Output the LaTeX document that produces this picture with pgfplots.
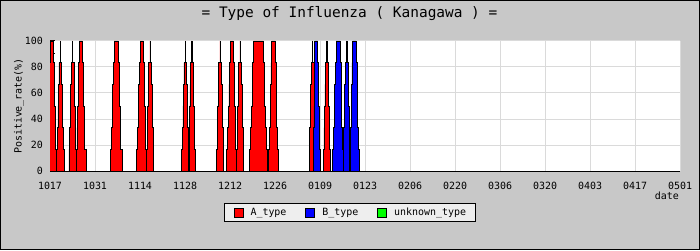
\documentclass[border=0pt]{standalone}
\usepackage{fontspec}
\setmainfont{DejaVu Sans Mono}
\usepackage{pgfplots}
\pgfplotsset{compat=1.18}
\definecolor{bgray}{RGB}{200,200,200}
\definecolor{gridc}{RGB}{218,218,218}
\definecolor{legbg}{RGB}{238,238,238}
\begin{document}
\begin{tikzpicture}[x=1bp,y=1bp]
\fill[bgray] (0,0) rectangle (700,250);
\path[use as bounding box] (0,0) rectangle (700,250);
\begin{axis}[
  at={(50bp,79bp)}, anchor=south west,
  scale only axis, width=630bp, height=130bp,
  xmin=0, xmax=196, ymin=0, ymax=100,
  axis background/.style={fill=white},
  axis x line=bottom, axis y line=left,
  axis line style={-, line width=1bp, black},
  xtick={0,14,...,196},
  xticklabels={1017,1031,1114,1128,1212,1226,0109,0123,0206,0220,0306,0320,0403,0417,0501},
  ytick={0,20,...,100},
  minor y tick num=1,
  xmajorgrids, ymajorgrids,
  grid style={gridc, line width=1bp},
  x tick style={draw=none},
  y tick style={black, line width=1bp},
  tick align=inside,
  major tick length=5bp, minor tick length=5bp,
  /pgf/number format/assume math mode=true,
  tick label style={font=\fontsize{10}{12}\selectfont},
  xticklabel style={inner sep=0pt, anchor=north, yshift=-11bp},
  yticklabel style={inner sep=0pt, anchor=east, xshift=-7bp},
  ylabel={Positive\_rate(\%)},
  every axis y label/.style={at={(axis description cs:-0.0492,0.5)}, rotate=90, anchor=center, inner sep=0pt, font=\fontsize{10}{12}\selectfont},
  xlabel={date},
  every axis x label/.style={at={(axis description cs:0.9984,-0.1615)}, anchor=north east, inner sep=0pt, font=\fontsize{10}{12}\selectfont},
  title={= Type of Influenza ( Kanagawa ) =},
  title style={at={(axis description cs:0.4754,1.131)}, anchor=base, inner sep=0pt, font=\fontsize{14.5}{16}\selectfont},
  legend columns=3,
  legend style={at={(0.476,-0.319)}, anchor=center, fill=legbg, draw=black, line width=1bp,
    font=\fontsize{10}{12}\selectfont, inner xsep=9bp, inner ysep=4bp,
    nodes={inner sep=0pt},
    /tikz/every odd column/.append style={column sep=7bp},
    /tikz/every even column/.append style={column sep=19bp}},
  legend image code/.code={\draw[#1, line width=0.8bp] (0bp,-4.5bp) rectangle (9bp,4.5bp);},
]
\addlegendimage{fill=red, draw=black}
\addlegendentry{A\_type}
\addlegendimage{fill=blue, draw=black}
\addlegendentry{B\_type}
\addlegendimage{fill=green, draw=black}
\addlegendentry{unknown\_type}

% A_type (red) spikes
\addplot[fill=red, draw=black, line width=0.6bp, forget plot] coordinates {
(-1.1,0)(-1.1,16.7)(-0.75,16.7)(-0.75,33.3)(-0.55,33.3)(-0.55,50)(-0.4,50)(-0.4,66.7)(-0.25,66.7)(-0.25,83.3)(0,83.3)(0,100)(1.0,100)(1.0,83.3)(1.25,83.3)(1.25,66.7)(1.4,66.7)(1.4,50)(1.55,50)(1.55,33.3)(1.75,33.3)(1.75,16.7)(2.1,16.7)(2.1,0)
(2.1,0)(2.1,16.7)(2.3,16.7)(2.3,33.3)(2.45,33.3)(2.45,50)(2.6,50)(2.6,66.7)(2.75,66.7)(2.75,83.3)(3.15,83.3)(3.15,100)(3.25,100)(3.25,83.3)(3.65,83.3)(3.65,66.7)(3.8,66.7)(3.8,50)(3.95,50)(3.95,33.3)(4.1,33.3)(4.1,16.7)(4.3,16.7)(4.3,0)
(5.9,0)(5.9,16.7)(6.1,16.7)(6.1,33.3)(6.25,33.3)(6.25,50)(6.4,50)(6.4,66.7)(6.55,66.7)(6.55,83.3)(6.95,83.3)(6.95,100)(7.05,100)(7.05,83.3)(7.45,83.3)(7.45,66.7)(7.6,66.7)(7.6,50)(7.75,50)(7.75,33.3)(7.9,33.3)(7.9,16.7)(8.1,16.7)(8.1,0)
(8.03,0)(8.03,16.7)(8.38,16.7)(8.38,33.3)(8.58,33.3)(8.58,50)(8.73,50)(8.73,66.7)(8.88,66.7)(8.88,83.3)(9.13,83.3)(9.13,100)(10.07,100)(10.07,83.3)(10.32,83.3)(10.32,66.7)(10.47,66.7)(10.47,50)(10.62,50)(10.62,33.3)(10.82,33.3)(10.82,16.7)(11.17,16.7)(11.17,0)
(18.83,0)(18.83,16.7)(19.18,16.7)(19.18,33.3)(19.38,33.3)(19.38,50)(19.53,50)(19.53,66.7)(19.68,66.7)(19.68,83.3)(19.93,83.3)(19.93,100)(21.27,100)(21.27,83.3)(21.52,83.3)(21.52,66.7)(21.67,66.7)(21.67,50)(21.82,50)(21.82,33.3)(22.02,33.3)(22.02,16.7)(22.37,16.7)(22.37,0)
(26.9,0)(26.9,16.7)(27.25,16.7)(27.25,33.3)(27.45,33.3)(27.45,50)(27.6,50)(27.6,66.7)(27.75,66.7)(27.75,83.3)(28.0,83.3)(28.0,100)(29.0,100)(29.0,83.3)(29.25,83.3)(29.25,66.7)(29.4,66.7)(29.4,50)(29.55,50)(29.55,33.3)(29.75,33.3)(29.75,16.7)(30.1,16.7)(30.1,0)
(30.0,0)(30.0,16.7)(30.2,16.7)(30.2,33.3)(30.35,33.3)(30.35,50)(30.5,50)(30.5,66.7)(30.65,66.7)(30.65,83.3)(31.05,83.3)(31.05,100)(31.15,100)(31.15,83.3)(31.55,83.3)(31.55,66.7)(31.7,66.7)(31.7,50)(31.85,50)(31.85,33.3)(32.0,33.3)(32.0,16.7)(32.2,16.7)(32.2,0)
(41.0,0)(41.0,16.7)(41.2,16.7)(41.2,33.3)(41.35,33.3)(41.35,50)(41.5,50)(41.5,66.7)(41.65,66.7)(41.65,83.3)(42.05,83.3)(42.05,100)(42.15,100)(42.15,83.3)(42.55,83.3)(42.55,66.7)(42.7,66.7)(42.7,50)(42.85,50)(42.85,33.3)(43.0,33.3)(43.0,16.7)(43.2,16.7)(43.2,0)
(43.0,0)(43.0,16.7)(43.2,16.7)(43.2,33.3)(43.35,33.3)(43.35,50)(43.5,50)(43.5,66.7)(43.65,66.7)(43.65,83.3)(44.05,83.3)(44.05,100)(44.15,100)(44.15,83.3)(44.55,83.3)(44.55,66.7)(44.7,66.7)(44.7,50)(44.85,50)(44.85,33.3)(45.0,33.3)(45.0,16.7)(45.2,16.7)(45.2,0)
(51.8,0)(51.8,16.7)(52.0,16.7)(52.0,33.3)(52.15,33.3)(52.15,50)(52.3,50)(52.3,66.7)(52.45,66.7)(52.45,83.3)(52.85,83.3)(52.85,100)(52.95,100)(52.95,83.3)(53.35,83.3)(53.35,66.7)(53.5,66.7)(53.5,50)(53.65,50)(53.65,33.3)(53.8,33.3)(53.8,16.7)(54.0,16.7)(54.0,0)
(54.93,0)(54.93,16.7)(55.28,16.7)(55.28,33.3)(55.48,33.3)(55.48,50)(55.63,50)(55.63,66.7)(55.78,66.7)(55.78,83.3)(56.03,83.3)(56.03,100)(56.97,100)(56.97,83.3)(57.22,83.3)(57.22,66.7)(57.37,66.7)(57.37,50)(57.52,50)(57.52,33.3)(57.72,33.3)(57.72,16.7)(58.07,16.7)(58.07,0)
(58.0,0)(58.0,16.7)(58.2,16.7)(58.2,33.3)(58.35,33.3)(58.35,50)(58.5,50)(58.5,66.7)(58.65,66.7)(58.65,83.3)(59.05,83.3)(59.05,100)(59.15,100)(59.15,83.3)(59.55,83.3)(59.55,66.7)(59.7,66.7)(59.7,50)(59.85,50)(59.85,33.3)(60.0,33.3)(60.0,16.7)(60.2,16.7)(60.2,0)
(62.0,0)(62.0,16.7)(62.45,16.7)(62.45,33.3)(62.7,33.3)(62.7,50)(62.85,50)(62.85,66.7)(63.0,66.7)(63.0,83.3)(63.25,83.3)(63.25,100)(66.35,100)(66.35,83.3)(66.6,83.3)(66.6,66.7)(66.75,66.7)(66.75,50)(66.9,50)(66.9,33.3)(67.15,33.3)(67.15,16.7)(67.6,16.7)(67.6,0)
(67.9,0)(67.9,16.7)(68.25,16.7)(68.25,33.3)(68.45,33.3)(68.45,50)(68.6,50)(68.6,66.7)(68.75,66.7)(68.75,83.3)(69.0,83.3)(69.0,100)(70.0,100)(70.0,83.3)(70.25,83.3)(70.25,66.7)(70.4,66.7)(70.4,50)(70.55,50)(70.55,33.3)(70.75,33.3)(70.75,16.7)(71.1,16.7)(71.1,0)
(80.6,0)(80.6,16.7)(80.8,16.7)(80.8,33.3)(80.95,33.3)(80.95,50)(81.1,50)(81.1,66.7)(81.25,66.7)(81.25,83.3)(81.65,83.3)(81.65,100)(81.75,100)(81.75,83.3)(82.15,83.3)(82.15,66.7)(82.3,66.7)(82.3,50)(82.45,50)(82.45,33.3)(82.6,33.3)(82.6,16.7)(82.8,16.7)(82.8,0)
(85.0,0)(85.0,16.7)(85.2,16.7)(85.2,33.3)(85.35,33.3)(85.35,50)(85.5,50)(85.5,66.7)(85.65,66.7)(85.65,83.3)(86.05,83.3)(86.05,100)(86.15,100)(86.15,83.3)(86.55,83.3)(86.55,66.7)(86.7,66.7)(86.7,50)(86.85,50)(86.85,33.3)(87.0,33.3)(87.0,16.7)(87.2,16.7)(87.2,0)
} \closedcycle;

% B_type (blue) spikes
\addplot[fill=blue, draw=black, line width=0.6bp, forget plot] coordinates {
(81.9,0)(81.9,16.7)(82.0,16.7)(82.0,33.3)(82.1,33.3)(82.1,50)(82.15,50)(82.15,66.7)(82.2,66.7)(82.2,83.3)(82.35,83.3)(82.35,100)(83.25,100)(83.25,83.3)(83.45,83.3)(83.45,66.7)(83.55,66.7)(83.55,50)(83.65,50)(83.65,33.3)(83.8,33.3)(83.8,16.7)(84.1,16.7)(84.1,0)
(87.88,0)(87.88,16.7)(88.23,16.7)(88.23,33.3)(88.43,33.3)(88.43,50)(88.58,50)(88.58,66.7)(88.73,66.7)(88.73,83.3)(88.98,83.3)(88.98,100)(90.22,100)(90.22,83.3)(90.47,83.3)(90.47,66.7)(90.62,66.7)(90.62,50)(90.77,50)(90.77,33.3)(90.97,33.3)(90.97,16.7)(91.32,16.7)(91.32,0)
(91.2,0)(91.2,16.7)(91.4,16.7)(91.4,33.3)(91.55,33.3)(91.55,50)(91.7,50)(91.7,66.7)(91.85,66.7)(91.85,83.3)(92.25,83.3)(92.25,100)(92.35,100)(92.35,83.3)(92.75,83.3)(92.75,66.7)(92.9,66.7)(92.9,50)(93.05,50)(93.05,33.3)(93.2,33.3)(93.2,16.7)(93.4,16.7)(93.4,0)
(93.1,0)(93.1,16.7)(93.45,16.7)(93.45,33.3)(93.65,33.3)(93.65,50)(93.8,50)(93.8,66.7)(93.95,66.7)(93.95,83.3)(94.2,83.3)(94.2,100)(95.2,100)(95.2,83.3)(95.45,83.3)(95.45,66.7)(95.6,66.7)(95.6,50)(95.75,50)(95.75,33.3)(95.95,33.3)(95.95,16.7)(96.3,16.7)(96.3,0)
} \closedcycle;
\end{axis}
\draw[black, line width=1bp] (0.5,0.5) rectangle (699.5,249.5);
\end{tikzpicture}
\end{document}
